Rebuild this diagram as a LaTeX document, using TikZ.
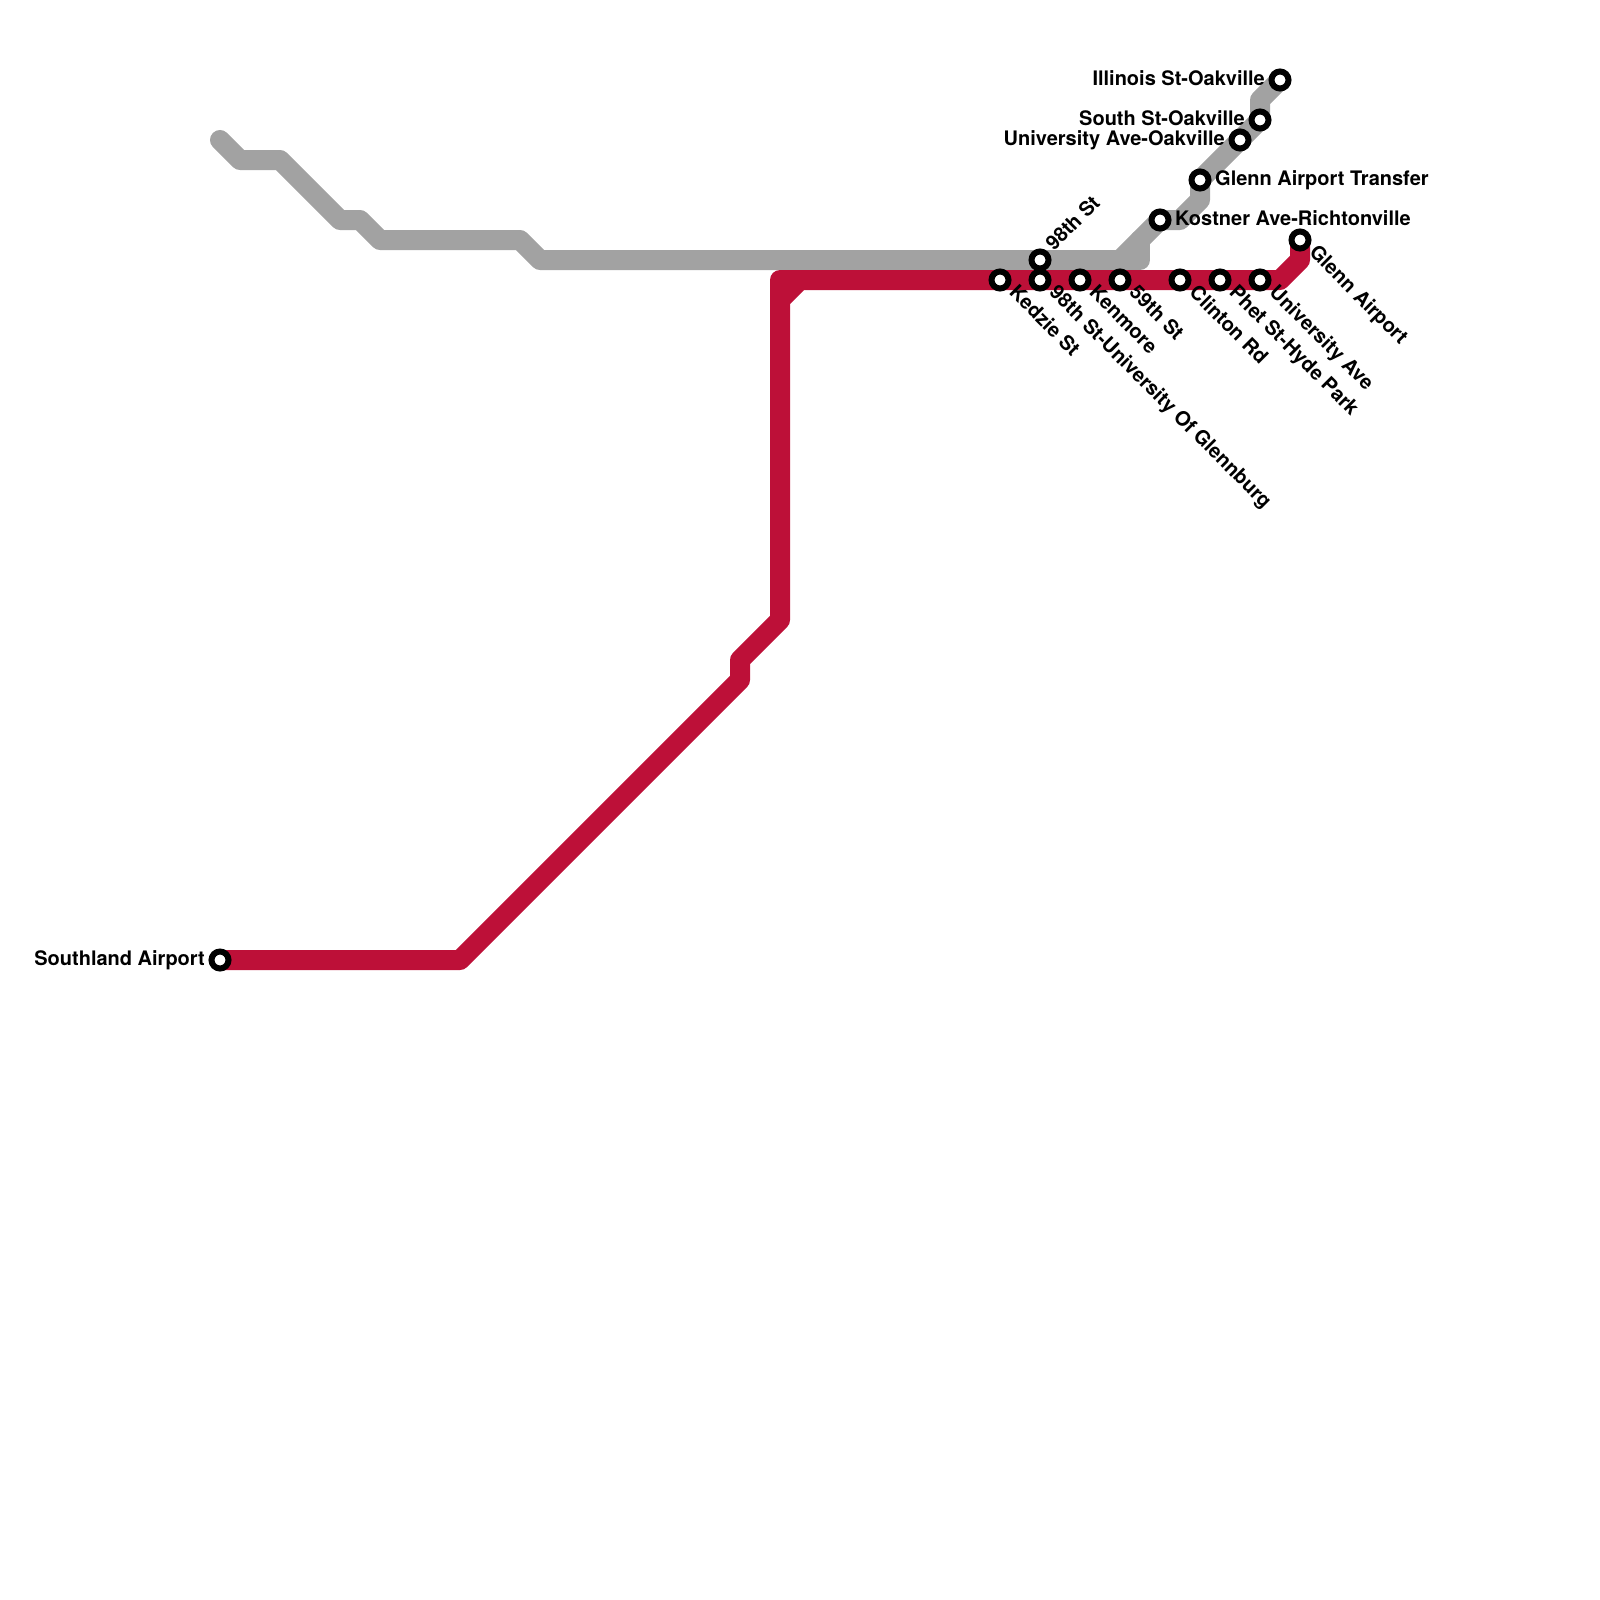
\documentclass[tikz,border=0pt]{standalone}
\usepackage{fontspec}
\setmainfont{TeX Gyre Heros}
\definecolor{graylinec}{HTML}{A2A2A2}
\definecolor{redlinec}{HTML}{BD1038}
\tikzset{
  x=1pt,y=-1pt,
  graypath/.style={draw=graylinec,line width=20pt,line join=round,line cap=round},
  redpath/.style={draw=redlinec,line width=20pt,line join=round,line cap=round},
  station/.style={circle,draw=black,fill=white,line width=6pt,minimum size=17pt,inner sep=0pt},
  lab/.style={font=\fontsize{20}{20}\selectfont\bfseries,inner sep=0pt,text=black},
  labR/.style={lab,anchor=mid west},
  labL/.style={lab,anchor=mid east},
  labD/.style={lab,anchor=mid west,rotate=-45},
  labU/.style={lab,anchor=mid west,rotate=45},
}
\begin{document}
\begin{tikzpicture}
\useasboundingbox (0,0) rectangle (1600,1600);
% stations' positions
\coordinate (illinois) at (1280,80);
\coordinate (south) at (1260,120);
\coordinate (univoak) at (1240,140);
\coordinate (transfer) at (1200,180);
\coordinate (kostner) at (1160,220);
\coordinate (ninetyeight) at (1040,260);
\coordinate (kedzie) at (1000,280);
\coordinate (ninetyeightu) at (1040,280);
\coordinate (kenmore) at (1080,280);
\coordinate (fiftynine) at (1120,280);
\coordinate (clinton) at (1180,280);
\coordinate (phet) at (1220,280);
\coordinate (univ) at (1260,280);
\coordinate (glenn) at (1300,240);
\coordinate (southland) at (220,960);
% gray bends
\coordinate (g1) at (220,140);
\coordinate (g2) at (240,160);
\coordinate (g3) at (280,160);
\coordinate (g4) at (340,220);
\coordinate (g5) at (360,220);
\coordinate (g6) at (380,240);
\coordinate (g7) at (520,240);
\coordinate (g8) at (540,260);
\coordinate (g9) at (1120,260);
\coordinate (g10) at (1140,260);
\coordinate (g11) at (1140,240);
\coordinate (g12) at (1180,220);
\coordinate (g13) at (1200,200);
\coordinate (g14) at (1260,100);
% red bends
\coordinate (r1) at (460,960);
\coordinate (r2) at (740,680);
\coordinate (r3) at (740,660);
\coordinate (r4) at (780,620);
\coordinate (r5) at (780,300);
\coordinate (r6) at (780,280);
\coordinate (r7) at (800,280);
\coordinate (r8) at (1280,280);
\coordinate (r9) at (1300,260);
% lines
\draw[graypath] (g1)--(g2)--(g3)--(g4)--(g5)--(g6)--(g7)--(g8)--(g9)--(g11)--(kostner)--(g12)--(g13)--(transfer)--(univoak)--(south)--(g14)--(illinois);
\draw[graypath] (g9)--(g10)--(g11);
\draw[redpath] (southland)--(r1)--(r2)--(r3)--(r4)--(r5)--(r7)--(r8)--(r9)--(glenn);
\draw[redpath] (r5)--(r6)--(r7);
% station markers
\foreach \n in {illinois,south,univoak,transfer,kostner,ninetyeight,kedzie,ninetyeightu,kenmore,fiftynine,clinton,phet,univ,glenn,southland}
  \node[station] (s\n) at (\n) {};
% labels
\node[labL] (lillinois) at ([xshift=-15pt,yshift=-2.5pt]illinois) {Illinois St-Oakville};
\node[labL] (lsouth) at ([xshift=-15pt,yshift=-2.5pt]south) {South St-Oakville};
\node[labL] (lunivoak) at ([xshift=-15pt,yshift=-2.5pt]univoak) {University Ave-Oakville};
\node[labR] (ltransfer) at ([xshift=15pt,yshift=-2.5pt]transfer) {Glenn Airport Transfer};
\node[labR] (lkostner) at ([xshift=15pt,yshift=-2.5pt]kostner) {Kostner Ave-Richtonville};
\node[labL] (lsouthland) at ([xshift=-15pt,yshift=-2.5pt]southland) {Southland Airport};
\node[labU] (lninetyeight) at ([xshift=12pt,yshift=10pt]ninetyeight) {98th St};
\node[labD] (lkedzie) at ([xshift=10pt,yshift=-12pt]kedzie) {Kedzie St};
\node[labD] (lninetyeightu) at ([xshift=10pt,yshift=-12pt]ninetyeightu) {98th St-University Of Glennburg};
\node[labD] (lkenmore) at ([xshift=10pt,yshift=-12pt]kenmore) {Kenmore};
\node[labD] (lfiftynine) at ([xshift=10pt,yshift=-12pt]fiftynine) {59th St};
\node[labD] (lclinton) at ([xshift=10pt,yshift=-12pt]clinton) {Clinton Rd};
\node[labD] (lphet) at ([xshift=10pt,yshift=-12pt]phet) {Phet St-Hyde Park};
\node[labD] (luniv) at ([xshift=10pt,yshift=-12pt]univ) {University Ave};
\node[labD] (lglenn) at ([xshift=10pt,yshift=-12pt]glenn) {Glenn Airport};
\end{tikzpicture}
\end{document}
